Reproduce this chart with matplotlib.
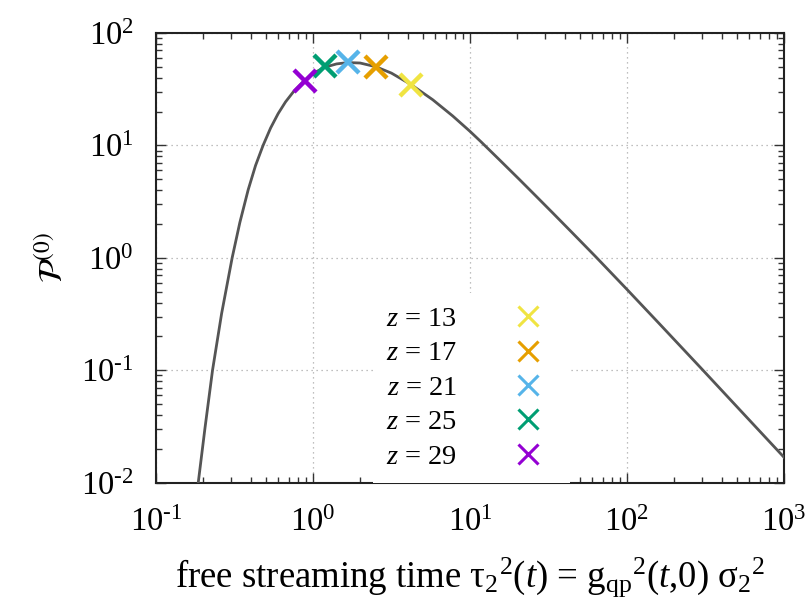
import matplotlib
matplotlib.use("Agg")
import matplotlib.pyplot as plt
import numpy as np
from matplotlib.lines import Line2D
from matplotlib.ticker import LogLocator, NullFormatter, FuncFormatter

plt.rcParams['font.family'] = ['Liberation Serif', 'DejaVu Serif']
plt.rcParams['mathtext.fontset'] = 'custom'
plt.rcParams['mathtext.rm'] = 'Liberation Serif'
plt.rcParams['mathtext.it'] = 'Liberation Serif:italic'
plt.rcParams['mathtext.bf'] = 'Liberation Serif:bold'

# curve
tau = [0.1858, 0.2051, 0.2291, 0.2618, 0.3055, 0.3420, 0.3864, 0.4305,
       0.4808, 0.5370, 0.5998, 0.6683, 0.7464, 0.8630, 1.0, 1.186, 1.413,
       1.667, 1.995, 2.512, 3.162, 4.227, 5.794, 7.762, 10.0, 11.78, 15.38,
       20.61, 26.30, 33.57, 44.67, 63.39, 100.0, 158.5, 295.1, 501.2, 1000.0]
P0 = [0.01, 0.03062, 0.1, 0.3199, 1.0, 2.061, 4.027, 6.622,
      10.0, 14.29, 19.19, 24.38, 29.72, 36.64, 43.65, 49.55, 53.09,
      54.58, 54.08, 50.12, 43.95, 34.67, 25.47, 18.28, 13.34, 10.74, 7.464,
      4.989, 3.548, 2.518, 1.679, 1.019, 0.5236, 0.2649, 0.1050, 0.04742, 0.01683]

z_labels = ['13', '17', '21', '25', '29']
z_tau = [4.23, 2.51, 1.67, 1.19, 0.89]
z_P = [34.2, 49.8, 55.1, 50.5, 37.3]
z_colors = ['#f0e442', '#e69f00', '#56b4e9', '#009e73', '#9400d3']

fig = plt.figure(figsize=(8.1, 5.98), dpi=100)
ax = fig.add_axes([156/810, 1-482.7/598, 628/810, 449.7/598])

ax.plot(tau, P0, color='#555555', lw=2.0, zorder=3, solid_joinstyle='round')
for t, p, c in zip(z_tau, z_P, z_colors):
    ax.plot([t], [p], marker='x', ls='none', color=c, ms=16, mew=3.2, zorder=4)

ax.set_xscale('log')
ax.set_yscale('log')
ax.set_xlim(0.1, 1000)
ax.set_ylim(0.01, 100)

ax.xaxis.set_major_locator(LogLocator(base=10, numticks=10))
ax.yaxis.set_major_locator(LogLocator(base=10, numticks=10))
ax.xaxis.set_minor_locator(LogLocator(base=10, subs=range(2, 10), numticks=20))
ax.yaxis.set_minor_locator(LogLocator(base=10, subs=range(2, 10), numticks=20))
ax.xaxis.set_minor_formatter(NullFormatter())
ax.yaxis.set_minor_formatter(NullFormatter())


def pow_fmt(v, pos):
    e = int(round(np.log10(v)))
    es = str(e) if e >= 0 else '\\text{-}' + str(-e)
    return '$\\mathdefault{10^{' + es + '}}$'


ax.xaxis.set_major_formatter(FuncFormatter(pow_fmt))
ax.yaxis.set_major_formatter(FuncFormatter(pow_fmt))

ax.tick_params(which='both', direction='in', top=True, right=True, width=1.0, color='#333333')
ax.tick_params(which='major', length=7, labelsize=23.5)
ax.tick_params(axis='x', which='major', pad=18)
ax.tick_params(axis='y', which='major', pad=16)
ax.tick_params(which='minor', length=4)
for s in ax.spines.values():
    s.set_linewidth(1.5)
    s.set_color('#222222')

ax.grid(True, which='major', ls=(0, (1, 3)), color='#aaaaaa', lw=0.9)

handles = [Line2D([], [], marker='x', ls='none', color=c, ms=15, mew=2.2) for c in z_colors]
labels = ['$z$ = ' + s for s in z_labels]
leg = ax.legend(handles, labels, loc='lower left', bbox_to_anchor=(0.3455, 0.0),
                markerfirst=False, fontsize=20.5, frameon=True, fancybox=False,
                framealpha=1.0, facecolor='white', edgecolor='none',
                handlelength=2.0, handletextpad=1.5, labelspacing=0.3,
                borderpad=0.45, borderaxespad=0.0)
leg.set_zorder(5)

ax.set_xlabel('free streaming time $\\mathrm{τ}_2{}^2(t)$ = g$_{\\rm qp}{}^2$($t$,0) σ$_2{}^2$',
              fontsize=26.5, labelpad=12)
ax.set_ylabel('$\\mathcal{P}^{(0)}$', fontsize=24, math_fontfamily='stix', labelpad=8)

fig.savefig('out.png', dpi=100)
